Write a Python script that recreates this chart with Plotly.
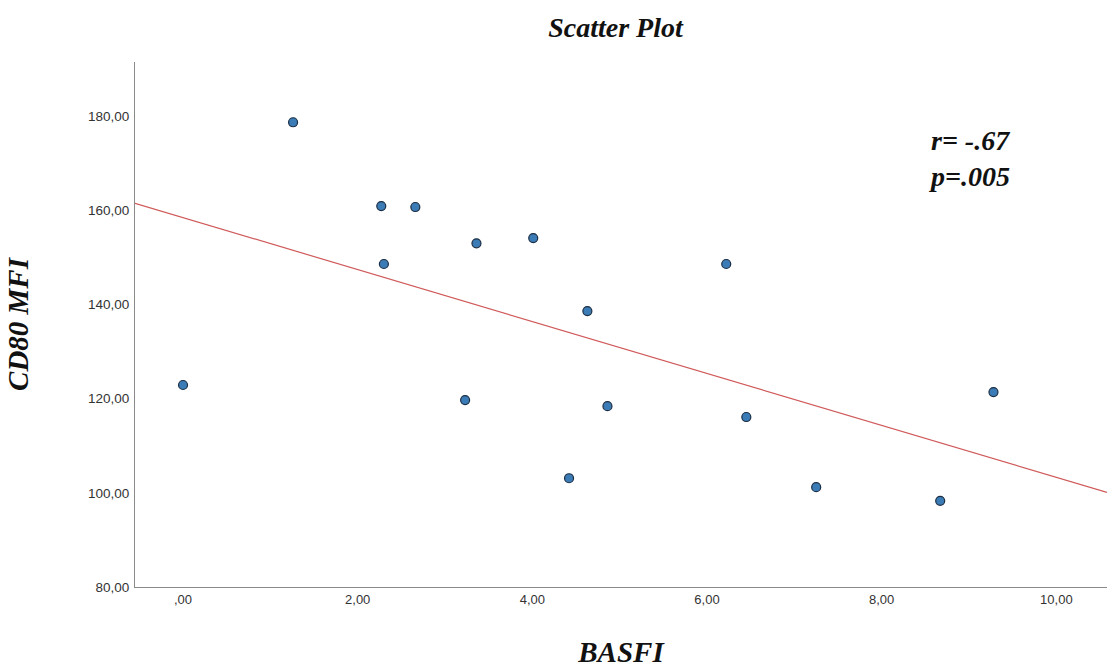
import numpy as np
import plotly.graph_objects as go

# BASFI score vs CD80 mean fluorescence intensity
basfi = [0.00, 1.26, 2.27, 2.30, 2.66, 3.23, 3.36, 4.01, 4.42, 4.63, 4.86, 6.22, 6.45, 7.25, 8.67, 9.28]
cd80_mfi = [122.9, 178.7, 160.9, 148.6, 160.7, 119.7, 153.0, 154.1, 103.1, 138.6, 118.4, 148.6, 116.1, 101.2, 98.3, 121.4]

x_ticks = [0, 2, 4, 6, 8, 10]
x_tick_text = [",00", "2,00", "4,00", "6,00", "8,00", "10,00"]
y_ticks = [80, 100, 120, 140, 160, 180]
y_tick_text = ["80,00", "100,00", "120,00", "140,00", "160,00", "180,00"]

x_range = [-0.55, 10.58]
y_range = [80, 191.5]

# least-squares fit line across the full x range
slope, intercept = np.polyfit(basfi, cd80_mfi, 1)
fit_x = np.array(x_range)
fit_y = intercept + slope * fit_x

serif = "Liberation Serif, Times New Roman, serif"
sans = "Liberation Sans, Arial, sans-serif"

fig = go.Figure()
fig.add_trace(go.Scatter(
    x=fit_x, y=fit_y, mode="lines",
    line=dict(color="#d05a5a", width=1.2),
    hoverinfo="skip", showlegend=False,
))
fig.add_trace(go.Scatter(
    x=basfi, y=cd80_mfi, mode="markers",
    marker=dict(size=9, color="#3b7cb6", line=dict(color="#1c2e44", width=1.2)),
    showlegend=False,
))

fig.add_annotation(
    xref="paper", yref="paper", x=0.815, y=0.883, xanchor="left", yanchor="top",
    text="<b><i>r= -.67<br>p=.005</i></b>", showarrow=False, align="left",
    font=dict(family=serif, size=28, color="#111"),
)

fig.update_layout(
    width=1107, height=668,
    margin=dict(l=135, r=0, t=62, b=81),
    paper_bgcolor="white", plot_bgcolor="white",
    title=dict(
        text="<b><i>Scatter Plot</i></b>", x=0.556, xanchor="center", y=0.96, yanchor="middle",
        font=dict(family=serif, size=28, color="#111"),
    ),
    xaxis=dict(
        range=x_range, tickvals=x_ticks, ticktext=x_tick_text,
        showgrid=False, zeroline=False, showline=True, linecolor="#8a8a8a", linewidth=1,
        ticks="", tickfont=dict(family=sans, size=13, color="#333"),
        title=dict(text="<b><i>BASFI</i></b>", font=dict(family=serif, size=29, color="#111"), standoff=36),
    ),
    yaxis=dict(
        range=y_range, tickvals=y_ticks, ticktext=y_tick_text,
        showgrid=False, zeroline=False, showline=True, linecolor="#8a8a8a", linewidth=1,
        ticks="", ticklabelstandoff=2, tickfont=dict(family=sans, size=13.5, color="#333"),
        title=dict(text="<b><i>CD80 MFI</i></b>", font=dict(family=serif, size=29, color="#111"), standoff=50),
    ),
)

fig.write_html("out.html")
